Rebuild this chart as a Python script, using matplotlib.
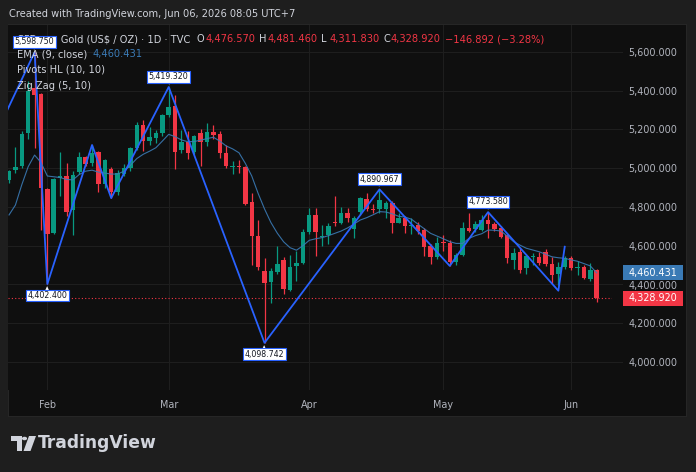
import matplotlib
matplotlib.use('Agg')
import matplotlib.pyplot as plt
from matplotlib.patches import Rectangle, Polygon, Circle
from matplotlib.transforms import blended_transform_factory

W, H = 696, 472

# daily bars, index 1..93 (last bar = Jun 5)
opens = [
    4940, 4990, 5010, 5180, 5415, 5383, 4893, 4667, 4948, 4962,
    4782, 4982, 5058, 5025, 5084, 4920, 4996, 4875, 4972, 5000,
    5103, 5222, 5142, 5158, 5180, 5275, 5320, 5094, 5137, 5082,
    5180, 5137, 5186, 5175, 5077, 5005, 5013, 5005, 4827, 4652,
    4470, 4415, 4466, 4527, 4372, 4496, 4510, 4670, 4759, 4644,
    4656, 4724, 4719, 4767, 4685, 4776, 4840, 4788, 4788, 4788,
    4819, 4719, 4745, 4702, 4707, 4681, 4598, 4540, 4621, 4613,
    4518, 4552, 4693, 4685, 4681, 4733, 4710, 4690, 4655, 4526,
    4569, 4484, 4540, 4543, 4569, 4506, 4454, 4492, 4535, 4484,
    4492, 4428, 4476.57,
]
highs = [
    4990, 5108, 5190, 5450, 5598.75, 5390, 4900, 4950, 5085, 5027,
    4985, 5085, 5065, 5120, 5090, 5050, 5005, 4990, 5020, 5110,
    5240, 5250, 5214, 5195, 5280, 5419.32, 5380, 5195, 5190, 5170,
    5200, 5235, 5223, 5190, 5120, 5037, 5040, 5010, 4870, 4733,
    4535, 4487, 4600, 4540, 4552, 4573, 4685, 4795, 4795, 4707,
    4715, 4857, 4802, 4795, 4755, 4850, 4874, 4815, 4890.967, 4830,
    4830, 4770, 4755, 4745, 4724, 4690, 4610, 4647, 4655, 4630,
    4560, 4724, 4767, 4730, 4760, 4773.58, 4720, 4700, 4660, 4590,
    4587, 4555, 4563, 4570, 4582, 4540, 4515, 4545, 4545, 4520,
    4500, 4510, 4481.46,
]
lows = [
    4925, 4975, 5000, 5150, 5105, 4680, 4402.4, 4660, 4855, 4755,
    4655, 4970, 5010, 5010, 4878, 4900, 4846, 4860, 4960, 4985,
    5095, 5090, 5120, 5130, 5165, 5265, 4995, 5078, 5048, 5075,
    5013, 5115, 5150, 5055, 5003, 4970, 4975, 4810, 4500, 4475,
    4098.742, 4306, 4455, 4350, 4365, 4418, 4505, 4660, 4547, 4599,
    4609, 4700, 4710, 4725, 4638, 4760, 4780, 4770, 4770, 4741,
    4667, 4715, 4664, 4660, 4660, 4547, 4506, 4530, 4575, 4496,
    4500, 4545, 4670, 4672, 4675, 4638, 4675, 4640, 4513, 4480,
    4461, 4455, 4500, 4500, 4495, 4403, 4398, 4480, 4475, 4450,
    4430, 4420, 4311.83,
]
closes = [
    4985, 5005, 5175, 5400, 5380, 4900, 4662, 4945, 4962, 4772,
    4965, 5060, 5022, 5080, 4920, 5043, 4880, 4975, 5000, 5103,
    5222, 5141, 5163, 5180, 5275, 5318, 5085, 5137, 5080, 5166,
    5137, 5186, 5172, 5077, 5012, 5012, 5005, 4816, 4652, 4488,
    4407, 4470, 4504, 4377, 4492, 4510, 4670, 4759, 4673, 4652,
    4702, 4719, 4767, 4745, 4745, 4845, 4788, 4784, 4836, 4822,
    4719, 4745, 4702, 4707, 4676, 4595, 4540, 4616, 4616, 4518,
    4552, 4690, 4676, 4712, 4733, 4712, 4686, 4647, 4535, 4564,
    4475, 4547, 4545, 4510, 4505, 4449, 4492, 4535, 4484, 4488,
    4432, 4475, 4328.92,
]
# EMA(9, close)
ema = [
    4759, 4810, 4915, 5008, 5068, 5030, 4960, 4956, 4952, 4942,
    4940, 4968, 4985, 4990, 4980, 4975, 4970, 4970, 4985, 5015,
    5050, 5072, 5088, 5106, 5140, 5175, 5163, 5146, 5137, 5138,
    5145, 5153, 5160, 5140, 5115, 5100, 5080, 5025, 4960, 4870,
    4790, 4720, 4665, 4620, 4590, 4577, 4600, 4628, 4636, 4642,
    4652, 4664, 4676, 4692, 4712, 4733, 4745, 4760, 4776, 4774,
    4765, 4752, 4748, 4737, 4712, 4688, 4664, 4650, 4636, 4621,
    4612, 4612, 4638, 4652, 4662, 4681, 4680, 4676, 4650, 4621,
    4603, 4587, 4578, 4569, 4556, 4543, 4538, 4535, 4527, 4520,
    4508, 4496, 4460.431,
]
zz_bars = [-3, 5, 7, 14, 17, 26, 41, 59, 70, 76, 87, 88]
zz_vals = [5040, 5598.75, 4402.4, 5120, 4846, 5419.32, 4098.742,
           4890.967, 4496, 4773.58, 4368, 4595]
pivot_bars = [5, 26, 59, 76, 7, 41]
pivot_vals = [5598.75, 5419.32, 4890.967, 4773.58, 4402.4, 4098.742]
pivot_high = [True, True, True, True, False, False]

month_labels = ['Feb', 'Mar', 'Apr', 'May', 'Jun']
month_bars = [7, 26, 48, 69, 89]
price_ticks = [4000, 4200, 4400, 4600, 4800, 5000, 5200, 5400, 5600]

GREEN = '#089981'
RED = '#f23645'
TEXT = '#d1d4dc'
AXIS_TEXT = '#b2b5be'
EMA_BLUE = '#3a7ab5'
ZZ_BLUE = '#2962ff'
GRID = '#1e1e1e'


def fx(x):
    return x / W


def fy(y):
    return 1 - y / H


fig = plt.figure(figsize=(W / 100, H / 100), dpi=100, facecolor='#1e1e1e')
fig.patches.append(Rectangle((fx(8), fy(416)), fx(678), 392 / H,
                             transform=fig.transFigure, fc='#0f0f0f',
                             ec='#2a2a2a', lw=0.6, zorder=-10))

ax = fig.add_axes([fx(8), fy(390), fx(604), 365 / H], zorder=1)
ax.set_facecolor('#0f0f0f')
for s in ax.spines.values():
    s.set_visible(False)

y_top = 5600 + (52 - 25) / 0.19375
y_bot = 5600 - (390 - 52) / 0.19375
ax.set_ylim(y_bot, y_top)
ax.set_xlim(0.84, 95.4)

bt = blended_transform_factory(ax.transAxes, ax.transData)
for p in price_ticks:
    ax.plot([0, 1.0166], [p, p], color=GRID, lw=0.8, transform=bt,
            clip_on=False, zorder=0.5)
for b in month_bars:
    ax.axvline(b, color=GRID, lw=0.8, zorder=0.5)

bars = list(range(1, len(closes) + 1))
for i, o, h, l, c in zip(bars, opens, highs, lows, closes):
    col = GREEN if c >= o else RED
    ax.vlines(i, l, h, color=col, lw=0.9, zorder=2)
    ax.bar(i, max(abs(c - o), 5), bottom=min(o, c), width=0.7,
           color=col, lw=0, zorder=2.1)

ax.plot(bars, ema, color=EMA_BLUE, lw=0.8, alpha=0.9, zorder=3)
ax.plot(zz_bars, zz_vals, color=ZZ_BLUE, lw=1.3, zorder=4)
ax.axhline(closes[-1], color=RED, lw=0.8, ls=(0, (1, 2)), zorder=3)

for b, v, hi in zip(pivot_bars, pivot_vals, pivot_high):
    off = 7.4 if hi else -8.3
    ax.annotate('▼' if hi else '▲', xy=(b, v), xytext=(0, off * 0.45),
                textcoords='offset points', ha='center', va='center',
                fontsize=4, color='white', zorder=19)
    ax.annotate('{:,.3f}'.format(v), xy=(b, v), xytext=(0, off),
                textcoords='offset points', ha='center', va='center',
                fontsize=5.7, color='#131722', zorder=20,
                bbox=dict(boxstyle='square,pad=0.18', fc='white',
                          ec=ZZ_BLUE, lw=0.8))

# price scale
ax.yaxis.tick_right()
ax.set_yticks(price_ticks)
ax.set_yticklabels(['{:,.3f}'.format(p) for p in price_ticks])
ax.tick_params(axis='y', length=0, pad=12, labelsize=6.9,
               labelcolor=AXIS_TEXT)
ax.set_xticks(month_bars)
ax.set_xticklabels(month_labels)
ax.tick_params(axis='x', length=0, pad=7, labelsize=6.9,
               labelcolor=AXIS_TEXT)

for val, col in [(ema[-1], EMA_BLUE), (closes[-1], RED)]:
    ax.add_patch(Rectangle((615 / 604, val - 7.5 / 0.19375), 60 / 604,
                           15 / 0.19375, transform=bt, fc=col, ec='none',
                           clip_on=False, zorder=10))
    ax.text(645 / 604, val, '{:,.3f}'.format(val), transform=bt,
            ha='center', va='center', fontsize=6.9, color='white',
            zorder=11)

# legend block
legend_rows = [
    (39.3, [(16.7, 'CFDs on Gold (US$ / OZ) · 1D · TVC', TEXT),
            (196.7, 'O', TEXT), (205, '4,476.570', RED),
            (259.5, 'H', TEXT), (267, '4,481.460', RED),
            (321, 'L', TEXT), (329, '4,311.830', RED),
            (383, 'C', TEXT), (390.5, '4,328.920', RED),
            (445, '−146.892 (−3.28%)', RED)]),
    (54.3, [(16.7, 'EMA (9, close)', TEXT), (93, '4,460.431', EMA_BLUE)]),
    (70, [(16.7, 'Pivots HL (10, 10)', TEXT)]),
    (86, [(16.7, 'Zig Zag (5, 10)', TEXT)]),
]
for y, parts in legend_rows:
    for x, s, col in parts:
        ax.text(fx(x), fy(y), s, transform=fig.transFigure, ha='left',
                va='center', fontsize=7.1, color=col, zorder=8)

fig.text(fx(9), fy(14), 'Created with TradingView.com, Jun 06, 2026 08:05 UTC+7',
         ha='left', va='center', fontsize=7.1, color=TEXT)

# logo
def pts(seq):
    return [(fx(x), fy(y)) for x, y in seq]


fig.patches.append(Polygon(pts([(11, 436), (21.5, 436), (21.5, 451),
                                (16.5, 451), (16.5, 441), (11, 441)]),
                           closed=True, transform=fig.transFigure,
                           fc=TEXT, ec='none'))
fig.patches.append(Circle((fx(24.5), fy(438.5)), 2.6 / W,
                          transform=fig.transFigure, fc=TEXT, ec='none'))
fig.patches.append(Polygon(pts([(29, 436), (36, 436), (30.5, 451),
                                (23.5, 451)]),
                           closed=True, transform=fig.transFigure,
                           fc=TEXT, ec='none'))
fig.text(fx(38), fy(443.5), 'TradingView', ha='left', va='center',
         fontsize=12.3, fontweight='bold', color=TEXT)

fig.savefig('out.png', dpi=100, facecolor=fig.get_facecolor())
